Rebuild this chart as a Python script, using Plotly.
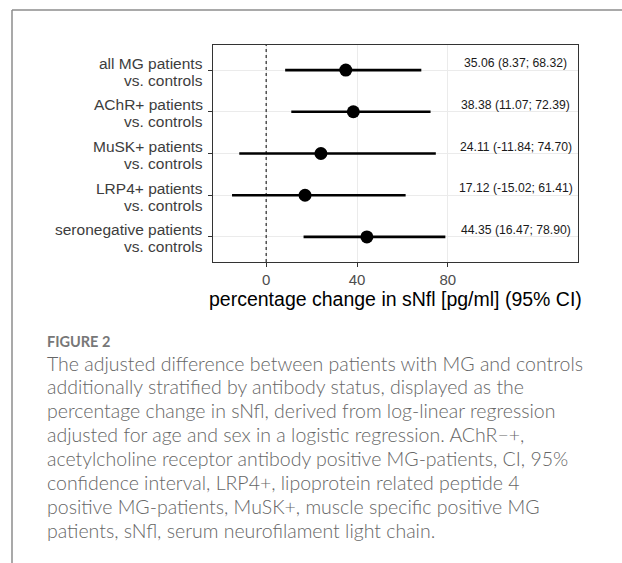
import plotly.graph_objects as go

groups = ["all MG", "AChR+", "MuSK+", "LRP4+", "seronegative"]
label_line1 = [
    "all MG patients",
    "AChR+ patients",
    "MuSK+ patients",
    "LRP4+ patients",
    "seronegative patients",
]
label_line2 = ["vs. controls"] * 5
estimate = [35.06, 38.38, 24.11, 17.12, 44.35]
ci_low = [8.37, 11.07, -11.84, -15.02, 16.47]
ci_high = [68.32, 72.39, 74.70, 61.41, 78.90]
x_ticks = [0, 40, 80]
label_x = 110

caption_title = "FIGURE 2"
caption_lines = [
    "The adjusted difference between patients with MG and controls",
    "additionally stratified by antibody status, displayed as the",
    "percentage change in sNfl, derived from log-linear regression",
    "adjusted for age and sex in a logistic regression. AChR\u2212+,",
    "acetylcholine receptor antibody positive MG-patients, CI, 95%",
    "confidence interval, LRP4+, lipoprotein related peptide 4",
    "positive MG-patients, MuSK+, muscle specific positive MG",
    "patients, sNfl, serum neurofilament light chain.",
]

W, H = 622, 563
L, R, T, B = 213, 578, 45, 262
pw, ph = R - L, B - T


def px(xp):
    return (xp - L) / pw


def py(yp):
    return (B - yp) / ph


fig = go.Figure()
fig.add_trace(go.Scatter(
    x=estimate, y=groups, mode="markers",
    marker=dict(size=13, color="black"),
    error_x=dict(type="data", symmetric=False,
                 array=[h - e for h, e in zip(ci_high, estimate)],
                 arrayminus=[e - l for e, l in zip(estimate, ci_low)],
                 width=0, thickness=2.7, color="black"),
    showlegend=False, hoverinfo="skip",
))

tick_font = dict(family="Liberation Sans, Arial", size=15.5, color="#3d3d3d")

annotations = []
for g, l1, l2, e, lo, hi in zip(groups, label_line1, label_line2,
                                estimate, ci_low, ci_high):
    annotations.append(dict(
        x=label_x, y=g, xref="x", yref="y", yshift=7,
        text=f"{e:.2f} ({lo:.2f}; {hi:.2f})", showarrow=False,
        xanchor="center", yanchor="middle",
        font=dict(family="Liberation Sans, Arial", size=12.2, color="#1a1a1a"),
    ))
    annotations.append(dict(
        x=px(205), y=g, xref="paper", yref="y", yshift=7,
        text=l1, showarrow=False, xanchor="right", yanchor="middle",
        font=tick_font,
    ))
    annotations.append(dict(
        x=px(205), y=g, xref="paper", yref="y", yshift=-10,
        text=l2, showarrow=False, xanchor="right", yanchor="middle",
        font=tick_font,
    ))

annotations.append(dict(
    x=0.5, y=py(299), xref="paper", yref="paper",
    text="percentage change in sNfl [pg/ml] (95% CI)", showarrow=False,
    xanchor="center", yanchor="middle",
    font=dict(family="Liberation Sans, Arial", size=19.5, color="black"),
))

annotations.append(dict(
    x=px(45), y=py(341.5), xref="paper", yref="paper",
    text=f"<b>{caption_title}</b>", showarrow=False,
    xanchor="left", yanchor="middle",
    font=dict(family="Lato", size=14.5, color="#777777"),
))
for i, line in enumerate(caption_lines):
    annotations.append(dict(
        x=px(45), y=py(363 + i * 23.9), xref="paper", yref="paper",
        text=line, showarrow=False, xanchor="left", yanchor="middle",
        font=dict(family="Lato", size=19.5, color="#666666", weight=300),
    ))

shapes = [
    dict(type="line", xref="x", yref="paper", x0=0, x1=0, y0=0, y1=1,
         line=dict(color="black", width=1, dash="3px,3px"), layer="above"),
    dict(type="line", xref="paper", yref="paper",
         x0=px(12), x1=px(622), y0=py(10), y1=py(10),
         line=dict(color="#8c8c8c", width=1.5)),
    dict(type="line", xref="paper", yref="paper",
         x0=px(12), x1=px(12), y0=py(10), y1=py(563),
         line=dict(color="#8c8c8c", width=1.5)),
]

fig.update_layout(
    width=W, height=H,
    margin=dict(l=L, r=W - R, t=T, b=H - B, pad=0),
    paper_bgcolor="white", plot_bgcolor="white",
    annotations=annotations, shapes=shapes,
    xaxis=dict(range=[-23.4, 137.3], tickvals=x_ticks, showgrid=True,
               gridcolor="#ebebeb", gridwidth=1, zeroline=False,
               showline=True, mirror=True, linecolor="#333333", linewidth=1.3,
               ticks="outside", ticklen=4, tickcolor="#333333",
               tickfont=dict(family="Liberation Sans, Arial", size=15, color="#4d4d4d")),
    yaxis=dict(type="category", categoryorder="array",
               categoryarray=list(reversed(groups)), range=[-0.6, 4.6],
               showgrid=True, gridcolor="#ebebeb", gridwidth=1, zeroline=False,
               showline=True, mirror=True, linecolor="#333333", linewidth=1.3,
               ticks="outside", ticklen=4, tickcolor="#333333",
               showticklabels=False),
)

fig.write_html("out.html", config={"displayModeBar": False},
               post_script="document.body.style.margin='0';")
